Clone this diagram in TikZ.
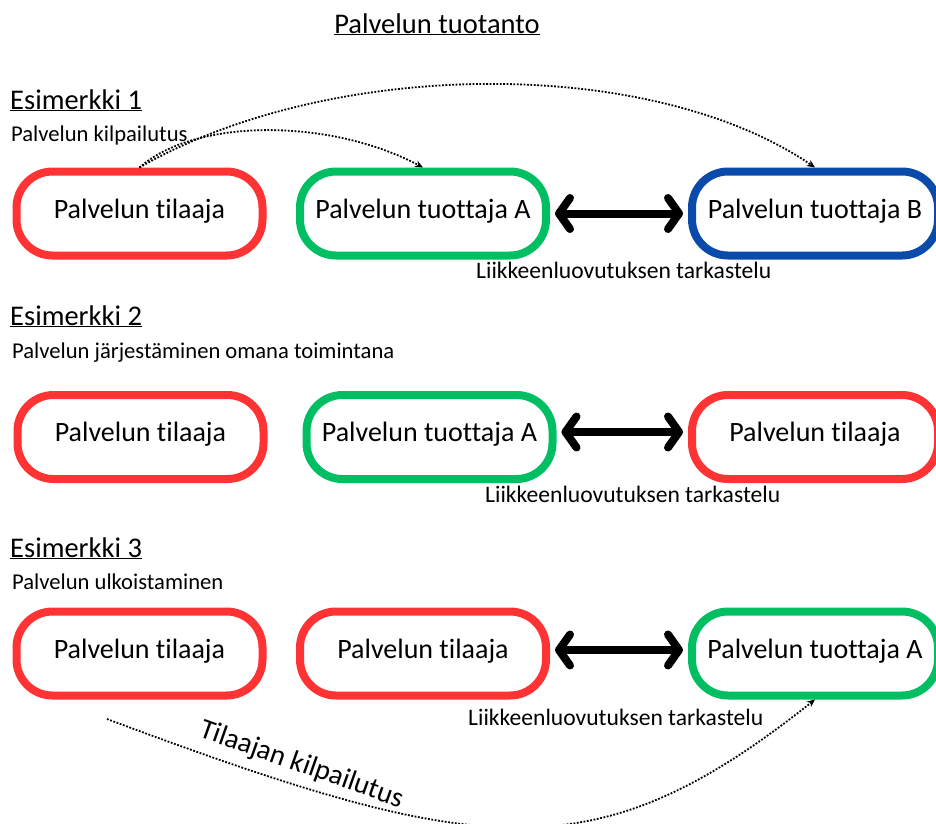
\documentclass[tikz,border=0pt]{standalone}
\usepackage{fontspec}
\setmainfont{Carlito}[Ligatures=NoCommon]
\usetikzlibrary{arrows.meta}
\definecolor{myred}{HTML}{FF3333}
\definecolor{mygreen}{HTML}{00BF63}
\definecolor{myblue}{HTML}{0A4AAA}
\begin{document}
\begin{tikzpicture}[x=1pt,y=-1pt,
  box/.style={draw, line width=8pt, rounded corners=36pt, minimum width=246pt,
    minimum height=84pt, inner sep=0pt, font=\fontsize{28}{30}\selectfont,
    text height=14pt, text depth=5pt},
  big/.style={font=\fontsize{28.5}{30}\selectfont, inner sep=0pt},
  small/.style={font=\fontsize{22.6}{26}\selectfont, inner sep=0pt},
  note/.style={font=\fontsize{23.6}{26}\selectfont, inner sep=0pt, anchor=base west},
  dots/.style={line width=1.8pt, dash pattern=on 1.8pt off 1.6pt,
    -{Stealth[length=8pt,width=7pt]}},
  dbl/.style={line width=8pt, shorten <=5pt, shorten >=5pt,
    {Straight Barb[length=11pt,width=31pt,round]}-{Straight Barb[length=11pt,width=31pt,round]}}]
\useasboundingbox (0,0) rectangle (936,823);

\node[big, anchor=base] (title) at (437,33) {\underline{Palvelun tuotanto}};

% Example 1
\node[big, anchor=base west] (e1) at (10,109) {\underline{Esimerkki 1}};
\node[small, anchor=base west] (k1) at (11,141) {Palvelun kilpailutus};
\node[box, myred, text=black] (a1) at (139.5,213.5) {Palvelun tilaaja};
\node[box, mygreen, text=black] (a2) at (423,213.5) {Palvelun tuottaja A};
\node[box, myblue, text=black] (a3) at (815,213.5) {Palvelun tuottaja B};
\draw[dbl] (a2.east) -- (a3.west);
\node[note] (l1) at (476,278) {Liikkeenluovutuksen tarkastelu};
\draw[dots] (a1.north) .. controls (195,118) and (330,118) .. (a2.north);
\draw[dots] (a1.north) .. controls (330,58) and (650,55) .. (a3.north);

% Example 2
\node[big, anchor=base west] (e2) at (10,325) {\underline{Esimerkki 2}};
\node[small, anchor=base west] (k2) at (12,358) {Palvelun järjestäminen omana toimintana};
\node[box, myred, text=black] (b1) at (140.5,437) {Palvelun tilaaja};
\node[box, mygreen, text=black] (b2) at (429.5,437) {Palvelun tuottaja A};
\node[box, myred, text=black] (b3) at (815,437) {Palvelun tilaaja};
\draw[dbl] ([yshift=5pt]b2.east) -- ([yshift=5pt]b3.west);
\node[note] (l2) at (485,502) {Liikkeenluovutuksen tarkastelu};

% Example 3
\node[big, anchor=base west] (e3) at (10,557) {\underline{Esimerkki 3}};
\node[small, anchor=base west] (k3) at (12,589) {Palvelun ulkoistaminen};
\node[box, myred, text=black] (c1) at (139.5,653.5) {Palvelun tilaaja};
\node[box, myred, text=black] (c2) at (423,653.5) {Palvelun tilaaja};
\node[box, mygreen, text=black] (c3) at (815,653.5) {Palvelun tuottaja A};
\draw[dbl] ([yshift=3.5pt]c2.east) -- ([yshift=3.5pt]c3.west);
\node[note] (l3) at (468,725) {Liikkeenluovutuksen tarkastelu};
\coordinate (cs) at (107,719);
\draw[dots] (cs) .. controls (482,859) and (595,874) .. (c3.south);
\node[big, rotate=-19.5] (tk) at (302,765) {Tilaajan kilpailutus};
\end{tikzpicture}
\end{document}
